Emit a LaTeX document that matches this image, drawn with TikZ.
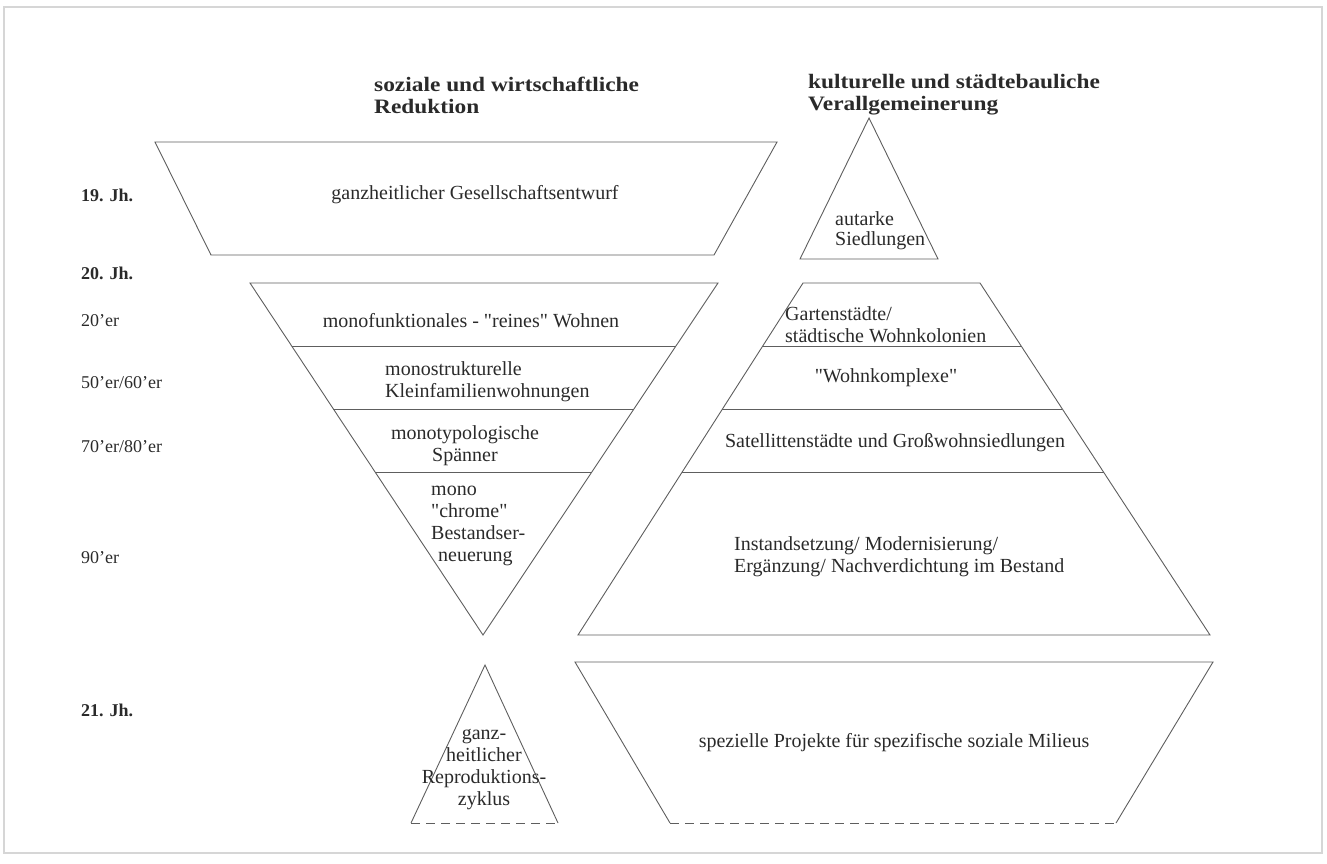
\documentclass[tikz,border=0pt]{standalone}
\usepackage{fontspec}
\setmainfont{Liberation Serif}[Ligatures=TeXOff]
\newfontfamily\hdrfont{Liberation Serif}[Ligatures=TeXOff,FakeStretch=1.14]
\usetikzlibrary{calc}
\definecolor{linec}{HTML}{5E5E5E}
\definecolor{txtc}{HTML}{2A2A2A}
\definecolor{framec}{HTML}{D6D6D6}
\tikzset{
  shp/.style={draw=linec, line width=0.9pt, line join=miter},
  dsh/.style={draw=linec, line width=0.9pt, dash pattern=on 9pt off 6pt},
  txt/.style={font=\fontsize{20}{22}\selectfont, text=txtc, inner sep=0pt},
  hdr/.style={font=\hdrfont\bfseries\fontsize{20.5}{22}\selectfont, text=txtc, inner sep=0pt, align=left, anchor=west},
  era/.style={font=\bfseries\fontsize{18}{22}\selectfont, text=txtc, inner sep=0pt, anchor=west},
  dec/.style={font=\fontsize{18}{22}\selectfont, text=txtc, inner sep=0pt, anchor=west},
}
\begin{document}
\begin{tikzpicture}[x=1pt,y=-1pt]
\useasboundingbox (0,0) rectangle (1327,863);
\draw[framec, line width=1.2pt] (4,7) rectangle (1322,853);

% headers
\node[hdr] (h1) at (374,95) {soziale und wirtschaftliche\\Reduktion};
\node[hdr] (h2) at (808,95) {kulturelle und städtebauliche\\Verallgemeinerung};

% era labels
\node[era] (e19) at (81,195) {19. Jh.};
\node[era] (e20) at (81,273) {20. Jh.};
\node[dec] (d20) at (81,321) {20’er};
\node[dec] (d50) at (81,383) {50’er/60’er};
\node[dec] (d70) at (81,447) {70’er/80’er};
\node[dec] (d90) at (81,558) {90’er};
\node[era] (e21) at (81,710) {21. Jh.};

% 19th century trapezoid
\coordinate (ta) at (155,142);
\coordinate (tb) at (777,142);
\coordinate (tc) at (714,255);
\coordinate (td) at (211,255);
\draw[shp] (ta) -- (tb) -- (tc) -- (td) -- cycle;
\node[txt] (tg) at (475,195) {ganzheitlicher Gesellschaftsentwurf};

% autarke triangle
\coordinate (aa) at (869,118);
\coordinate (ab) at (938,259);
\coordinate (ac) at (800,259);
\draw[shp] (aa) -- (ab) -- (ac) -- cycle;
\node[txt, align=left, anchor=west, font=\fontsize{20}{20}\selectfont] (at) at (835,231) {autarke\\Siedlungen};

% inverted triangle
\coordinate (ia) at (250,283);
\coordinate (ib) at (718,283);
\coordinate (ic) at (483,635);
\draw[shp] (ia) -- (ib) -- (ic) -- cycle;
\draw[shp] ($(ia)!0.179!(ic)$) -- ($(ib)!0.179!(ic)$);
\draw[shp] ($(ia)!0.358!(ic)$) -- ($(ib)!0.358!(ic)$);
\draw[shp] ($(ia)!0.537!(ic)$) -- ($(ib)!0.537!(ic)$);
\node[txt] (i1) at (471,321) {monofunktionales - "reines" Wohnen};
\node[txt, align=left, anchor=west] (i2) at (385,382) {monostrukturelle\\Kleinfamilienwohnungen};
\node[txt, align=center] (i3) at (465,446) {monotypologische\\Spänner};
\node[txt, align=left, anchor=west] (i4) at (431,526) {mono\\"chrome"\\Bestandser-\\\hspace*{0.35em}neuerung};

% right pyramid
\coordinate (pa) at (803,283);
\coordinate (pb) at (980,283);
\coordinate (pc) at (1210,635);
\coordinate (pd) at (578,635);
\draw[shp] (pa) -- (pb) -- (pc) -- (pd) -- cycle;
\draw[shp] ($(pa)!0.179!(pd)$) -- ($(pb)!0.179!(pc)$);
\draw[shp] ($(pa)!0.358!(pd)$) -- ($(pb)!0.358!(pc)$);
\draw[shp] ($(pa)!0.537!(pd)$) -- ($(pb)!0.537!(pc)$);
\node[txt, align=left, anchor=west] (p1) at (785,325) {Gartenstädte/\\städtische Wohnkolonien};
\node[txt] (p2) at (886,378) {"Wohnkomplexe"};
\node[txt] (p3) at (895,443) {Satellittenstädte und Großwohnsiedlungen};
\node[txt, align=left, anchor=west] (p4) at (734,557) {Instandsetzung/ Modernisierung/\\Ergänzung/ Nachverdichtung im Bestand};

% 21st century small triangle
\coordinate (sa) at (485,665);
\coordinate (sb) at (558,823);
\coordinate (sc) at (411,823);
\draw[shp] (sc) -- (sa) -- (sb);
\draw[dsh] (sc) -- (sb);
\node[txt, align=center] (st) at (484,770) {ganz-\\heitlicher\\Reproduktions-\\zyklus};

% 21st century trapezoid
\coordinate (qa) at (575,662);
\coordinate (qb) at (1213,662);
\coordinate (qc) at (1116,823);
\coordinate (qd) at (670,823);
\draw[shp] (qd) -- (qa) -- (qb) -- (qc);
\draw[dsh] (qd) -- (qc);
\node[txt] (qt) at (894,743) {spezielle Projekte für spezifische soziale Milieus};
\end{tikzpicture}
\end{document}
